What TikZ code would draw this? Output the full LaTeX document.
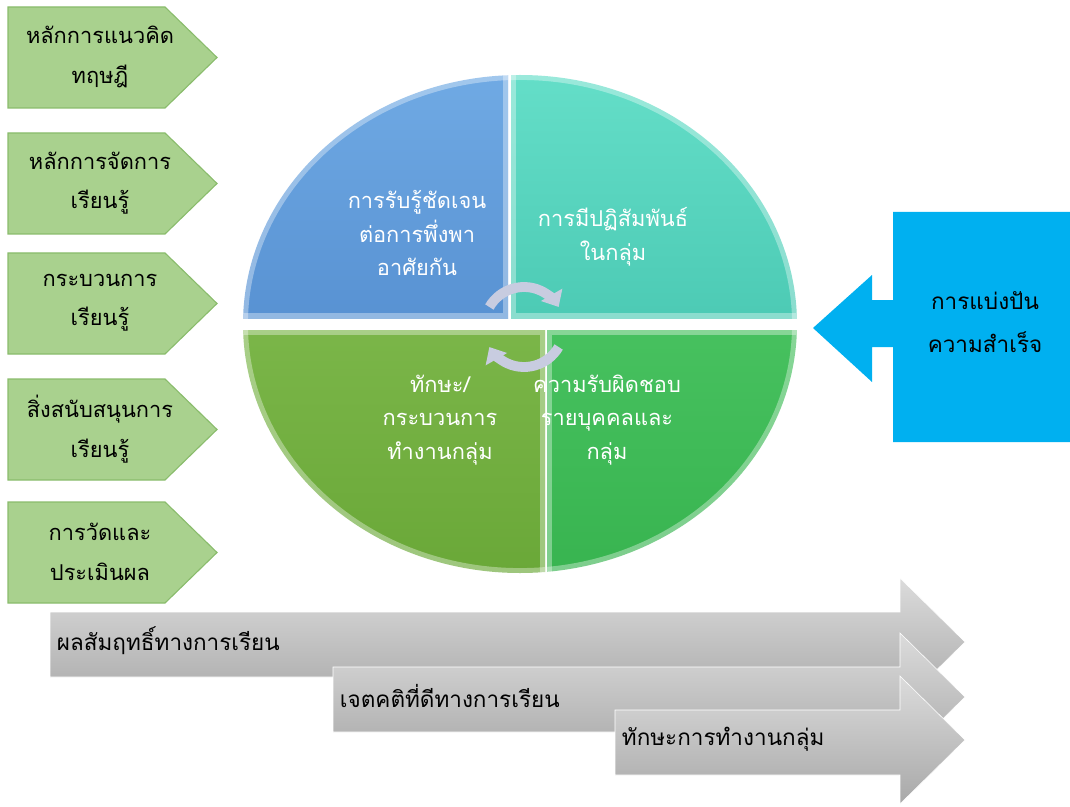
\documentclass[tikz,border=0pt]{standalone}
\usepackage{fontspec}
\setmainfont[Script=Thai]{Loma}
\usepackage{tikz}
\usetikzlibrary{arrows.meta}
\definecolor{pentafill}{RGB}{169,209,142}
\definecolor{pentaline}{RGB}{138,188,108}
\definecolor{sharefill}{RGB}{0,176,240}
\definecolor{bluetop}{RGB}{112,170,228}
\definecolor{bluebot}{RGB}{62,120,192}
\definecolor{tealtop}{RGB}{100,222,200}
\definecolor{tealbot}{RGB}{52,182,160}
\definecolor{limetop}{RGB}{140,196,90}
\definecolor{limebot}{RGB}{106,168,56}
\definecolor{greentop}{RGB}{86,206,110}
\definecolor{greenbot}{RGB}{56,180,80}
\definecolor{cyclecol}{RGB}{200,204,224}

\begin{document}
\begin{tikzpicture}
	[x=0.025cm, y=-0.025cm,
	penta_style/.style={fill=pentafill, draw=pentaline, thick},
	pentatext_style/.style={align=center, text=black, font=\fontsize{15.5}{28}\selectfont},
	quadtext_style/.style={align=center, text=white, font=\fontsize{15.5}{24}\selectfont},
	bevel_style/.style={draw=white, opacity=0.35, line width=7},
	out_style/.style={top color=gray!28, middle color=gray!55, bottom color=gray!68, draw=white},
	outtext_style/.style={anchor=west, text=black, font=\fontsize{16}{24}\selectfont},
	cycle_style/.style={draw=cyclecol, line width=7, -{Triangle[length=10, width=17]}}]
	\useasboundingbox (0,0) rectangle (1070,807);

	\foreach \t/\a/\b [count=\i] in {7/หลักการแนวคิด/ทฤษฎี, 133/หลักการจัดการ/เรียนรู้,
		253/กระบวนการ/เรียนรู้, 379/สิ่งสนับสนุนการ/เรียนรู้, 502/การวัดและ/ประเมินผล}
	{
		\draw[penta_style] (8,\t) -- ++(157,0) -- ++(52,50.5) -- ++(-52,50.5) -- ++(-157,0) -- cycle;
		\node[pentatext_style] (p\i) at (100,\t+50) {\a\\\b};
	}

	\begin{scope}
		\clip (230,60) rectangle (508,318);
		\shade[top color=bluetop, bottom color=bluebot] (520,324) ellipse [x radius=277, y radius=249];
		\draw[bevel_style] (520,324) ellipse [x radius=277, y radius=249];
		\draw[bevel_style] (230,60) rectangle (508,318);
	\end{scope}
	\begin{scope}
		\clip (511,60) rectangle (810,318);
		\shade[top color=tealtop, bottom color=tealbot] (520,324) ellipse [x radius=277, y radius=249];
		\draw[bevel_style] (520,324) ellipse [x radius=277, y radius=249];
		\draw[bevel_style] (511,60) rectangle (810,318);
	\end{scope}
	\begin{scope}
		\clip (230,330) rectangle (545,590);
		\shade[top color=limetop, bottom color=limebot] (520,324) ellipse [x radius=277, y radius=249];
		\draw[bevel_style] (520,324) ellipse [x radius=277, y radius=249];
		\draw[bevel_style] (230,330) rectangle (545,590);
	\end{scope}
	\begin{scope}
		\clip (547,330) rectangle (810,590);
		\shade[top color=greentop, bottom color=greenbot] (520,324) ellipse [x radius=277, y radius=249];
		\draw[bevel_style] (520,324) ellipse [x radius=277, y radius=249];
		\draw[bevel_style] (547,330) rectangle (810,590);
	\end{scope}

	\node[quadtext_style] (q1) at (417,233) {การรับรู้ชัดเจน\\ต่อการพึ่งพา\\อาศัยกัน};
	\node[quadtext_style] (q2) at (613,237) {การมีปฏิสัมพันธ์\\ในกลุ่ม};
	\node[quadtext_style] (q3) at (440,420) {ทักษะ/\\กระบวนการ\\ทำงานกลุ่ม};
	\node[quadtext_style] (q4) at (607,420) {ความรับผิดชอบ\\รายบุคคลและ\\กลุ่ม};

	\coordinate (c) at (524,327);
	\draw[cycle_style] ([shift={(210:40)}]c) arc [start angle=210, end angle=330, radius=40];
	\draw[cycle_style] ([shift={(30:40)}]c) arc [start angle=30, end angle=150, radius=40];

	\fill[sharefill] (1070,212) -- (893,212) -- (893,300) -- (872,300) -- (872,275) -- (813,328)
		-- (872,382) -- (872,347) -- (893,347) -- (893,442) -- (1070,442) -- cycle;
	\node[pentatext_style, font=\fontsize{16}{30}\selectfont] (share) at (985,322) {การแบ่งปัน\\ความสำเร็จ};

	\foreach \x/\y/\t [count=\i] in {50/612/ผลสัมฤทธิ์ทางการเรียน, 333/667/เจตคติที่ดีทางการเรียน,
		615/710/ทักษะการทำงานกลุ่ม}
	{
		\shade[out_style] (\x,\y) -- (900,\y) -- (900,\y-34) -- (965,\y+30) -- (900,\y+94)
			-- (900,\y+65) -- (\x,\y+65) -- cycle;
		\node[outtext_style] (out\i) at (\x+2,\y+29) {\t};
	}
\end{tikzpicture}
\end{document}
